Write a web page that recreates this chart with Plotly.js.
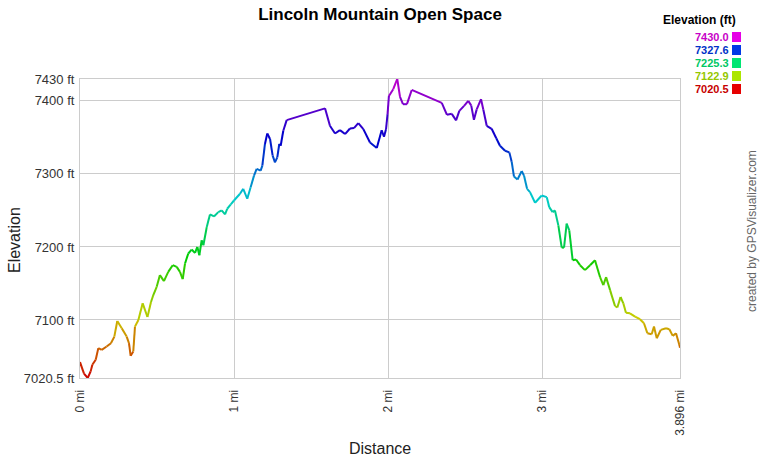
<!DOCTYPE html>
<html>
<head>
<meta charset="utf-8">
<script src="https://cdn.plot.ly/plotly-3.0.1.min.js"></script>
<style>html,body{margin:0;padding:0;background:#fff;}#chart{width:760px;height:460px;}</style>
</head>
<body>
<div id="chart"></div>
<script>
// Distance along the trail (miles)
const distance = [0.000,0.026,0.050,0.069,0.080,0.102,0.119,0.141,0.173,0.201,0.223,0.242,0.271,0.303,0.318,0.329,0.346,0.357,0.379,0.407,
0.438,0.461,0.476,0.498,0.519,0.545,0.573,0.602,0.628,0.649,0.667,0.682,0.703,0.725,0.747,0.762,0.775,0.790,0.801,0.823,
0.844,0.870,0.898,0.920,0.942,0.956,0.979,1.000,1.039,1.060,1.086,1.108,1.130,1.147,1.173,1.184,1.201,1.216,1.234,1.251,
1.266,1.281,1.294,1.303,1.320,1.342,1.591,1.623,1.656,1.688,1.721,1.753,1.779,1.807,1.840,1.883,1.927,1.959,1.974,1.987,
1.997,2.006,2.034,2.060,2.078,2.097,2.123,2.154,2.349,2.383,2.414,2.442,2.463,2.494,2.521,2.540,2.558,2.576,2.604,2.619,
2.641,2.673,2.703,2.727,2.760,2.788,2.803,2.818,2.841,2.868,2.883,2.903,2.922,2.955,2.998,3.031,3.047,3.069,3.084,3.106,
3.128,3.143,3.160,3.177,3.199,3.221,3.247,3.279,3.312,3.344,3.377,3.398,3.416,3.442,3.474,3.489,3.510,3.528,3.545,3.571,
3.604,3.636,3.662,3.684,3.712,3.727,3.745,3.771,3.805,3.827,3.849,3.870,3.892,3.896];
// Elevation (feet)
const elevation = [7042.3,7026.4,7020.5,7029.5,7038.6,7045.5,7061.4,7059.1,7063.6,7068.2,7077.2,7098.6,7088.7,7077.2,7068.2,7050.9,7056.8,7090.9,7100.0,7122.8,
7104.1,7124.5,7134.1,7145.4,7161.4,7153.2,7165.9,7175.0,7172.7,7165.9,7155.9,7177.3,7191.0,7196.4,7191.8,7200.0,7188.6,7209.1,7202.3,7227.2,
7244.5,7241.8,7247.7,7250.0,7244.5,7252.3,7258.2,7263.6,7272.8,7279.6,7266.0,7281.8,7297.7,7306.9,7304.5,7311.4,7341.0,7355.4,7347.8,7325.0,
7315.9,7322.7,7341.0,7338.6,7359.1,7373.7,7389.8,7365.9,7355.4,7360.0,7354.6,7362.2,7362.8,7369.6,7361.4,7343.1,7335.6,7359.8,7350.9,7361.1,
7381.9,7406.8,7416.0,7430.0,7405.5,7395.5,7395.5,7415.0,7397.3,7380.9,7382.3,7373.4,7386.4,7393.2,7400.0,7393.9,7374.1,7388.4,7402.3,7388.0,
7365.9,7361.8,7348.9,7338.6,7331.8,7329.5,7316.8,7296.4,7292.3,7303.9,7297.7,7279.6,7275.0,7260.5,7270.5,7268.2,7254.5,7247.7,7250.0,7229.5,
7199.1,7199.1,7231.9,7222.7,7181.8,7182.8,7175.0,7168.2,7175.0,7181.8,7158.6,7147.7,7158.6,7140.9,7119.1,7117.0,7131.4,7122.8,7110.0,7109.1,
7104.5,7101.0,7095.5,7081.9,7080.5,7090.9,7075.0,7086.4,7088.7,7087.3,7078.2,7081.8,7065.9,7061.8];

const xTickVals = [0, 1, 2, 3, 3.896];
const xTickText = ['0 mi', '1 mi', '2 mi', '3 mi', '3.896 mi'];
const yTickVals = [7020.5, 7100, 7200, 7300, 7400, 7430];
const yTickText = ['7020.5 ft', '7100 ft', '7200 ft', '7300 ft', '7400 ft', '7430 ft'];
const legendValues = ['7430.0', '7327.6', '7225.3', '7122.9', '7020.5'];

const eMin = 7020.5, eMax = 7430;

function hsv(h, s, v) {
  const c = v * s, hp = h / 60, x = c * (1 - Math.abs(hp % 2 - 1));
  let r = 0, g = 0, b = 0;
  if (hp < 1) { r = c; g = x; } else if (hp < 2) { r = x; g = c; }
  else if (hp < 3) { g = c; b = x; } else if (hp < 4) { g = x; b = c; }
  else if (hp < 5) { r = x; b = c; } else { r = c; b = x; }
  const m = v - c;
  return 'rgb(' + Math.round((r + m) * 255) + ',' + Math.round((g + m) * 255) + ',' + Math.round((b + m) * 255) + ')';
}
function elevColor(e, v) {
  const t = Math.max(0, Math.min(1, (e - eMin) / (eMax - eMin)));
  return hsv(300 * t, 1, v);
}

const traces = [];
for (let i = 0; i < distance.length - 1; i++) {
  const mid = (elevation[i] + elevation[i + 1]) / 2;
  traces.push({
    type: 'scatter', mode: 'lines',
    x: [distance[i], distance[i + 1]],
    y: [elevation[i], elevation[i + 1]],
    line: { color: elevColor(mid, 0.8), width: 2 },
    cliponaxis: false, hoverinfo: 'skip', showlegend: false
  });
}

const L = 80, R = 80, T = 79, B = 82, W = 760, H = 460;
const pw = W - L - R, ph = H - T - B;
const px = x => (x - L) / pw;
const py = y => (H - B - y) / ph;
const FONT = 'Liberation Sans, Arial, sans-serif';

const annotations = [
  { text: 'Elevation', textangle: -90, x: px(14), y: py(240), xref: 'paper', yref: 'paper', showarrow: false,
    font: { size: 16, color: '#222', family: FONT }, xanchor: 'center', yanchor: 'middle' },
  { text: 'Distance', x: px(380), y: py(448), xref: 'paper', yref: 'paper', showarrow: false,
    font: { size: 16, color: '#222', family: FONT }, xanchor: 'center', yanchor: 'middle' },
  { text: 'created by GPSVisualizer.com', textangle: -90, x: px(752), y: py(231), xref: 'paper', yref: 'paper', showarrow: false,
    font: { size: 12, color: '#666', family: FONT }, xanchor: 'center', yanchor: 'middle' },
  { text: '<b>Elevation (ft)</b>', x: px(738), y: py(20), xref: 'paper', yref: 'paper', showarrow: false,
    font: { size: 12, color: '#000', family: FONT }, xanchor: 'right', yanchor: 'middle' }
];
const shapes = [];
legendValues.forEach((v, i) => {
  const yc = 37 + i * 13;
  const val = parseFloat(v);
  annotations.push({ text: '<b>' + v + '</b>', x: px(730), y: py(yc), xref: 'paper', yref: 'paper', showarrow: false,
    borderpad: 0, valign: 'middle',
    font: { size: 11, color: elevColor(val, 0.78), family: FONT }, xanchor: 'right', yanchor: 'middle' });
  shapes.push({ type: 'rect', xref: 'paper', yref: 'paper', x0: px(732), x1: px(741), y0: py(yc + 5), y1: py(yc - 5),
    fillcolor: elevColor(val, 0.9), line: { width: 0 } });
});

const layout = {
  width: W, height: H,
  margin: { l: L, r: R, t: T, b: B, pad: 0 },
  paper_bgcolor: '#fff', plot_bgcolor: '#fff',
  font: { family: FONT, size: 12, color: '#333' },
  title: { text: '<b>Lincoln Mountain Open Space</b>', x: 0.5, xanchor: 'center', xref: 'paper',
    y: 1 - 14 / H, yref: 'container', yanchor: 'middle', font: { size: 17, color: '#000' } },
  showlegend: false,
  xaxis: {
    range: [0, 3.896], tickmode: 'array', tickvals: xTickVals, ticktext: xTickText, tickangle: -90,
    showgrid: true, gridcolor: '#cccccc', gridwidth: 1, zeroline: false,
    showline: true, mirror: true, linecolor: '#cccccc', linewidth: 1, ticks: '', ticklabelstandoff: 6,
    tickfont: { size: 12, color: '#333' }
  },
  yaxis: {
    range: [eMin, eMax], tickmode: 'array', tickvals: yTickVals, ticktext: yTickText,
    showgrid: true, gridcolor: '#cccccc', gridwidth: 1, zeroline: false,
    showline: true, mirror: true, linecolor: '#cccccc', linewidth: 1, ticks: '', ticklabelstandoff: 2,
    tickfont: { size: 13, color: '#333' }
  },
  annotations: annotations,
  shapes: shapes
};

Plotly.newPlot('chart', traces, layout, { displayModeBar: false, staticPlot: true });
</script>
</body>
</html>
